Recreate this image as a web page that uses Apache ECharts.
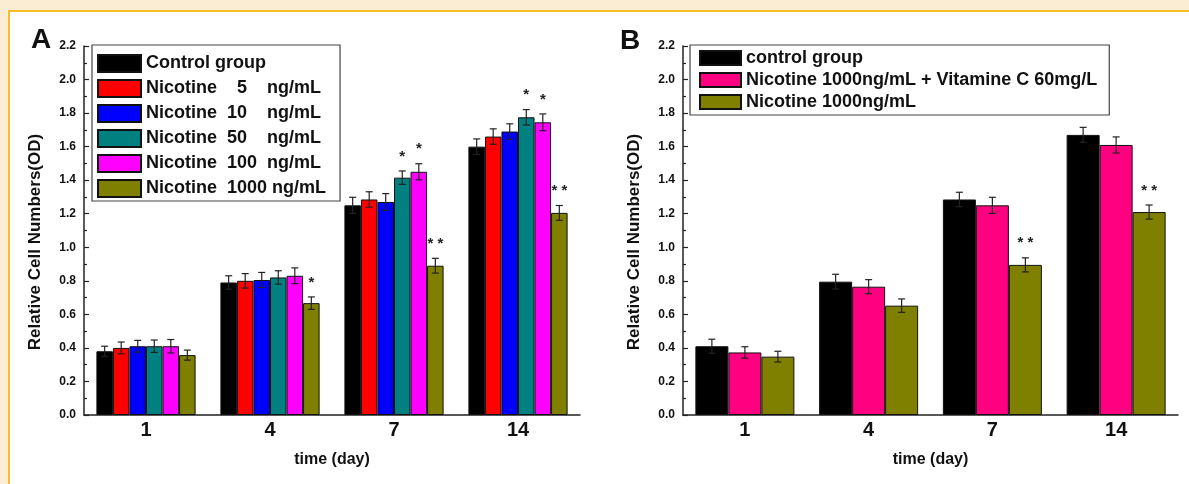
<!DOCTYPE html>
<html>
<head>
<meta charset="utf-8">
<script src="https://cdn.jsdelivr.net/npm/echarts@6/dist/echarts.min.js"></script>
<style>
  html, body { margin: 0; padding: 0; }
  body { width: 1189px; height: 484px; background: #FBEDD3; position: relative; overflow: hidden; }
  #frame { position: absolute; left: 8px; top: 10px; right: 0; bottom: 0; background: #fff;
           border-left: 2px solid #F4BF26; border-top: 2px solid #F4BF26; }
  #chart { position: absolute; left: 0; top: 0; width: 1189px; height: 484px; }
</style>
</head>
<body>
<div id="frame"></div>
<div id="chart"></div>
<script>
// ---------- data ----------
const days = ['1', '4', '7', '14'];

// Panel A
const namesA = ['Control group', 'Nicotine    5    ng/mL', 'Nicotine  10    ng/mL', 'Nicotine  50    ng/mL', 'Nicotine  100  ng/mL', 'Nicotine  1000 ng/mL'];
const colorsA = ['#000000', '#FF0000', '#0000FF', '#008080', '#FF00FF', '#808000'];
const controlA   = [0.38, 0.79, 1.25, 1.60];
const nic5A      = [0.40, 0.80, 1.285, 1.66];
const nic10A     = [0.41, 0.805, 1.27, 1.69];
const nic50A     = [0.41, 0.82, 1.415, 1.775];
const nic100A    = [0.41, 0.83, 1.45, 1.745];
const nic1000A   = [0.357, 0.667, 0.89, 1.205];
const errControlA = [0.03, 0.04, 0.048, 0.046];
const errNic5A    = [0.035, 0.043, 0.046, 0.046];
const errNic10A   = [0.035, 0.045, 0.05, 0.046];
const errNic50A   = [0.037, 0.04, 0.04, 0.046];
const errNic100A  = [0.04, 0.047, 0.048, 0.05];
const errNic1000A = [0.03, 0.037, 0.044, 0.044];
const starsControlA = ['', '', '', ''];
const starsNic5A    = ['', '', '', ''];
const starsNic10A   = ['', '', '', ''];
const starsNic50A   = ['', '', '*', '*'];
const starsNic100A  = ['', '', '*', '*'];
const starsNic1000A = ['', '*', '* *', '* *'];

// Panel B
const namesB = ['control group', 'Nicotine 1000ng/mL + Vitamine C 60mg/L', 'Nicotine 1000ng/mL'];
const colorsB = ['#000000', '#FF0080', '#808000'];
const controlB  = [0.41, 0.795, 1.285, 1.67];
const nicVitCB  = [0.373, 0.765, 1.25, 1.61];
const nic1000B  = [0.348, 0.652, 0.895, 1.21];
const errControlB = [0.042, 0.044, 0.043, 0.045];
const errNicVitCB = [0.034, 0.042, 0.048, 0.048];
const errNic1000B = [0.032, 0.04, 0.042, 0.042];
const starsControlB = ['', '', '', ''];
const starsNicVitCB = ['', '', '', ''];
const starsNic1000B = ['', '', '* *', '* *'];

const yTicks = { min: 0, max: 2.2, interval: 0.2 };

// ---------- build ----------
const FONT = '"Liberation Sans", Arial, Helvetica, sans-serif';
const GAP = 0.2; // barCategoryGap ratio

const valsA = [controlA, nic5A, nic10A, nic50A, nic100A, nic1000A];
const errsA = [errControlA, errNic5A, errNic10A, errNic50A, errNic100A, errNic1000A];
const starsA = [starsControlA, starsNic5A, starsNic10A, starsNic50A, starsNic100A, starsNic1000A];
const valsB = [controlB, nicVitCB, nic1000B];
const errsB = [errControlB, errNicVitCB, errNic1000B];
const starsB = [starsControlB, starsNicVitCB, starsNic1000B];

function barSeries(names, colors, vals, axisIdx) {
  return names.map((n, i) => ({
    name: n, type: 'bar', xAxisIndex: axisIdx, yAxisIndex: axisIdx,
    data: vals[i], barGap: '0%', barCategoryGap: (GAP * 100) + '%',
    itemStyle: { color: colors[i], borderColor: '#111', borderWidth: 1 },
    emphasis: { disabled: true }
  }));
}

function errSeries(vals, errs, stars, axisIdx) {
  const n = vals.length;
  const data = [];
  vals.forEach((arr, s) => arr.forEach((v, c) => data.push([c, v, errs[s][c], s, stars[s][c]])));
  return {
    type: 'custom', xAxisIndex: axisIdx, yAxisIndex: axisIdx, z: 10, silent: true,
    data: data, encode: { x: 0, y: 1 },
    renderItem: function (params, api) {
      const c = api.value(0), v = api.value(1), e = api.value(2), s = api.value(3);
      const star = data[params.dataIndex][4];
      const band = api.size([1, 0])[0];
      const groupW = band * (1 - GAP);
      const bw = groupW / n;
      const x = api.coord([c, v])[0] - groupW / 2 + (s + 0.5) * bw;
      const yT = api.coord([c, v + e])[1];
      const yB = api.coord([c, v - e])[1];
      const cap = 3.5;
      const st = { stroke: '#222', lineWidth: 1.2 };
      const children = [
        { type: 'line', shape: { x1: x, y1: yT, x2: x, y2: yB }, style: st },
        { type: 'line', shape: { x1: x - cap, y1: yT, x2: x + cap, y2: yT }, style: st },
        { type: 'line', shape: { x1: x - cap, y1: yB, x2: x + cap, y2: yB }, style: st }
      ];
      if (star) {
        children.push({ type: 'text', style: { text: star, x: x, y: yT - 7, align: 'center', verticalAlign: 'bottom',
          font: 'bold 15px ' + FONT, fill: '#222' } });
      }
      return { type: 'group', children: children };
    }
  };
}

function xAxis(gridIndex) {
  return {
    type: 'category', gridIndex: gridIndex, data: days,
    axisTick: { show: false },
    axisLine: { lineStyle: { color: '#222', width: 1.5 } },
    axisLabel: { fontSize: 20, fontWeight: 'bold', color: '#111', fontFamily: FONT, margin: 5 },
    name: 'time (day)', nameLocation: 'middle', nameGap: 37,
    nameTextStyle: { fontSize: 16, fontWeight: 'bold', color: '#111', fontFamily: FONT }
  };
}
function yAxis(gridIndex) {
  return {
    type: 'value', gridIndex: gridIndex, min: yTicks.min, max: yTicks.max, interval: yTicks.interval,
    splitLine: { show: false },
    axisLine: { show: true, lineStyle: { color: '#222', width: 1.5 } },
    axisTick: { show: true, inside: true, length: 5, lineStyle: { color: '#222', width: 1.2 } },
    minorTick: { show: true, splitNumber: 2, length: 3, lineStyle: { color: '#222', width: 1.2 } },
    axisLabel: { fontSize: 12, fontWeight: 'bold', color: '#111', fontFamily: FONT, margin: 8,
      formatter: v => v.toFixed(1) },
    name: 'Relative Cell Numbers(OD)', nameLocation: 'middle', nameGap: 40,
    nameTextStyle: { fontSize: 17, fontWeight: 'bold', color: '#111', fontFamily: FONT, padding: [0, 23, 0, 0] }
  };
}

const chart = echarts.init(document.getElementById('chart'), null, { renderer: 'canvas' });
chart.setOption({
  animation: false,
  backgroundColor: 'transparent',
  title: [
    { text: 'A', left: 31, top: 26, padding: 0, textStyle: { fontSize: 28, fontWeight: 'bold', color: '#111', fontFamily: FONT } },
    { text: 'B', left: 620, top: 27, padding: 0, textStyle: { fontSize: 28, fontWeight: 'bold', color: '#111', fontFamily: FONT } }
  ],
  legend: [
    { data: namesA, orient: 'vertical', left: 92, top: 45, icon: 'rect', itemWidth: 43, itemHeight: 17, itemGap: 6,
      padding: [9, 14, 3, 5], borderColor: '#444', borderWidth: 1.2, backgroundColor: '#fff',
      selectedMode: false,
      textStyle: { fontSize: 18, fontWeight: 'bold', color: '#111', fontFamily: FONT } },
    { data: namesB, orient: 'vertical', left: 690, top: 45, icon: 'rect', itemWidth: 41, itemHeight: 14, itemGap: 4,
      padding: [4, 12, 4, 9], borderColor: '#444', borderWidth: 1.2, backgroundColor: '#fff',
      selectedMode: false,
      textStyle: { fontSize: 18, fontWeight: 'bold', color: '#111', fontFamily: FONT } }
  ],
  grid: [
    { left: 84, top: 46, width: 496, height: 369 },
    { left: 683, top: 46, width: 495, height: 369 }
  ],
  xAxis: [xAxis(0), xAxis(1)],
  yAxis: [yAxis(0), yAxis(1)],
  series: [].concat(
    barSeries(namesA, colorsA, valsA, 0),
    barSeries(namesB, colorsB, valsB, 1),
    [errSeries(valsA, errsA, starsA, 0), errSeries(valsB, errsB, starsB, 1)]
  )
});
</script>
</body>
</html>
